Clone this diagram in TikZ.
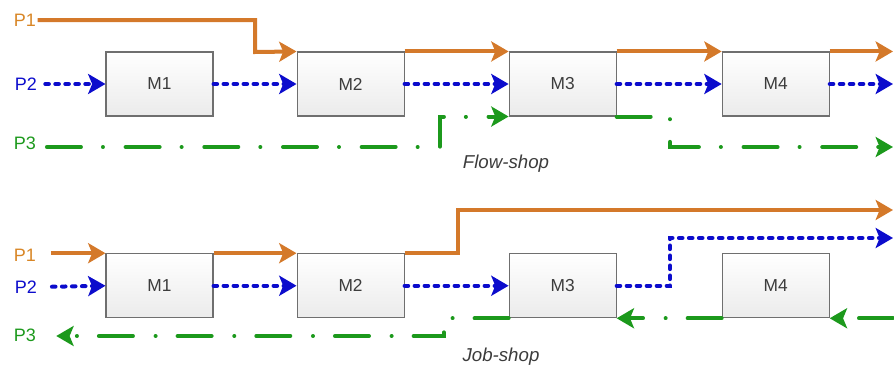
\documentclass[tikz,border=0pt]{standalone}
\usepackage{fontspec}
\setmainfont{Liberation Sans}
\definecolor{routeorange}{HTML}{D4792A}
\definecolor{routeblue}{HTML}{0C0CCC}
\definecolor{routegreen}{HTML}{1C991C}
\definecolor{boxborder}{HTML}{6F6F6F}
\definecolor{boxshade}{HTML}{EBEBEB}
\definecolor{textgray}{HTML}{3C3C3C}
\usetikzlibrary{arrows.meta, positioning}
\tikzstyle{machine} = [
  rectangle, minimum width=80.25pt, minimum height=48pt,
  draw=boxborder, line width=0.8pt,
  top color=white, bottom color=boxshade,
  font=\fontsize{13}{15}\selectfont, text=textgray
]
\tikzstyle{plabel} = [
  font=\fontsize{13.5}{16}\selectfont, inner sep=1pt
]
\tikzstyle{caption} = [
  font=\itshape\fontsize{14}{16}\selectfont, text=textgray
]
\tikzstyle{orangeroute} = [
  -{Stealth[length=13pt,width=15pt,inset=3pt]},
  line width=3pt, color=routeorange
]
\tikzstyle{blueroute} = [
  -{Stealth[length=13pt,width=15pt,inset=3pt]},
  line width=3pt, color=routeblue, line cap=round,
  dash pattern=on 2.7pt off 4.8pt
]
\tikzstyle{greenroute} = [
  -{Stealth[length=13pt,width=15pt,inset=3pt]},
  line width=3pt, color=routegreen, line cap=round,
  dash pattern=on 25.5pt off 16.5pt on 0.01pt off 17pt
]

\begin{document}
\begin{tikzpicture}[x=0.75pt, y=-0.75pt]

  \useasboundingbox (0,0) rectangle (894,371);
  \coordinate (edge) at (893,0);

  % ── Flow-shop machines ────────────────────────────────
  \node[machine] (m1top) at (159.5,84) {M1};
  \node[machine, right=62.25pt of m1top] (m2top) {M2};
  \node[machine, right=78pt of m2top]    (m3top) {M3};
  \node[machine, right=78.75pt of m3top] (m4top) {M4};

  % ── Job-shop machines ─────────────────────────────────
  \node[machine, below=102.5pt of m1top] (m1bot) {M1};
  \node[machine, right=62.25pt of m1bot] (m2bot) {M2};
  \node[machine, right=78pt of m2bot]    (m3bot) {M3};
  \node[machine, right=78.75pt of m3bot] (m4bot) {M4};

  % ── Product labels ────────────────────────────────────
  \node[plabel, text=routeorange!90!yellow] (lblP1a) at (25,20)  {P1};
  \node[plabel, text=routeblue]             (lblP2a) at (26,84)  {P2};
  \node[plabel, text=routegreen]            (lblP3a) at (25,143) {P3};
  \node[plabel, text=routeorange!90!yellow] (lblP1b) at (25,255) {P1};
  \node[plabel, text=routeblue]             (lblP2b) at (26,287) {P2};
  \node[plabel, text=routegreen]            (lblP3b) at (25,335) {P3};

  \node[caption] (flowcap) at (506,164) {Flow-shop};
  \node[caption] (jobcap)  at (501,357) {Job-shop};

  % ── Bend points ───────────────────────────────────────
  \coordinate (p1bend) at (255,52);
  \coordinate (g1) at (440,147);
  \coordinate (g2) at (670,147);
  \coordinate (o1) at (458,210);
  \coordinate (b1) at (670,238);
  \coordinate (g3) at (444,336);

  % ── Flow-shop routes ──────────────────────────────────
  \draw[orangeroute] (lblP1a.east) -| (p1bend) -- (m2top.north west);
  \draw[orangeroute] (m2top.north east) -- (m3top.north west);
  \draw[orangeroute] (m3top.north east) -- (m4top.north west);
  \draw[orangeroute] (m4top.north east) -- (m4top.north east -| edge);

  \draw[blueroute, shorten <=5pt] (lblP2a.east) -- (m1top.west);
  \draw[blueroute] (m1top.east) -- (m2top.west);
  \draw[blueroute] (m2top.east) -- (m3top.west);
  \draw[blueroute] (m3top.east) -- (m4top.west);
  \draw[blueroute] (m4top.east) -- (m4top.east -| edge);

  \draw[greenroute, shorten <=7pt] (lblP3a.east |- g1) -- (g1) |- (m3top.south west);
  \draw[greenroute] (m3top.south east) -| (g2) -- (g2 -| edge);

  % ── Job-shop routes ───────────────────────────────────
  \draw[orangeroute, shorten <=10pt] (lblP1b.east |- m1bot.north west) -- (m1bot.north west);
  \draw[orangeroute] (m1bot.north east) -- (m2bot.north west);
  \draw[orangeroute] (m2bot.north east) -| (o1) -- (o1 -| edge);

  \draw[blueroute, shorten <=10pt] (lblP2b.east) -- (m1bot.west);
  \draw[blueroute] (m1bot.east) -- (m2bot.west);
  \draw[blueroute] (m2bot.east) -- (m3bot.west);
  \draw[blueroute] (m3bot.east) -| (b1) -- (b1 -| edge);

  % P3 runs backwards through the shop
  \draw[greenroute] (m4bot.south east -| edge) -- (m4bot.south east);
  \draw[greenroute] (m4bot.south west) -- (m3bot.south east);
  \draw[greenroute, shorten >=14pt] (m3bot.south west) -| (g3) -- (lblP3b.east |- g3);

\end{tikzpicture}
\end{document}
